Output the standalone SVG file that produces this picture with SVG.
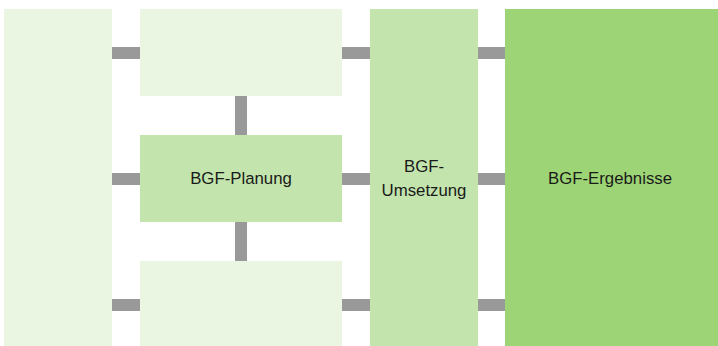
<svg xmlns="http://www.w3.org/2000/svg" width="718" height="346" viewBox="0 0 718 346">
  <style>
    .pale { fill: #EAF6E2; }
    .mid { fill: #C3E5AD; }
    .deep { fill: #9DD576; }
    .bar { stroke: #999999; stroke-width: 12; fill: none; }
    .label { font-family: "Liberation Sans", Arial, sans-serif; font-size: 16.8px; fill: #1a1a1a; text-anchor: middle; }
  </style>
  <rect width="718" height="346" fill="#ffffff"/>
  <g id="connectors">
    <line class="bar" x1="111" y1="53" x2="141" y2="53"/>
    <line class="bar" x1="111" y1="179" x2="141" y2="179"/>
    <line class="bar" x1="111" y1="305" x2="141" y2="305"/>
    <line class="bar" x1="341" y1="53" x2="371" y2="53"/>
    <line class="bar" x1="341" y1="179" x2="371" y2="179"/>
    <line class="bar" x1="341" y1="305" x2="371" y2="305"/>
    <line class="bar" x1="477" y1="53" x2="506" y2="53"/>
    <line class="bar" x1="477" y1="179" x2="506" y2="179"/>
    <line class="bar" x1="477" y1="305" x2="506" y2="305"/>
    <line class="bar" x1="241" y1="95" x2="241" y2="136"/>
    <line class="bar" x1="241" y1="221" x2="241" y2="262"/>
  </g>
  <g id="left-column">
    <rect class="pale" x="4" y="9" width="108" height="337"/>
  </g>
  <g id="top-box">
    <rect class="pale" x="140" y="9" width="202" height="87"/>
  </g>
  <g id="planung">
    <rect class="mid" x="140" y="135" width="202" height="87"/>
    <text class="label" x="241" y="184">BGF-Planung</text>
  </g>
  <g id="bottom-box">
    <rect class="pale" x="140" y="261" width="202" height="85"/>
  </g>
  <g id="umsetzung">
    <rect class="mid" x="370" y="9" width="108" height="337"/>
    <text class="label" x="424" y="172">BGF-</text>
    <text class="label" x="424" y="196">Umsetzung</text>
  </g>
  <g id="ergebnisse">
    <rect class="deep" x="505" y="9" width="213" height="337"/>
    <text class="label" x="610" y="184">BGF-Ergebnisse</text>
  </g>
</svg>
